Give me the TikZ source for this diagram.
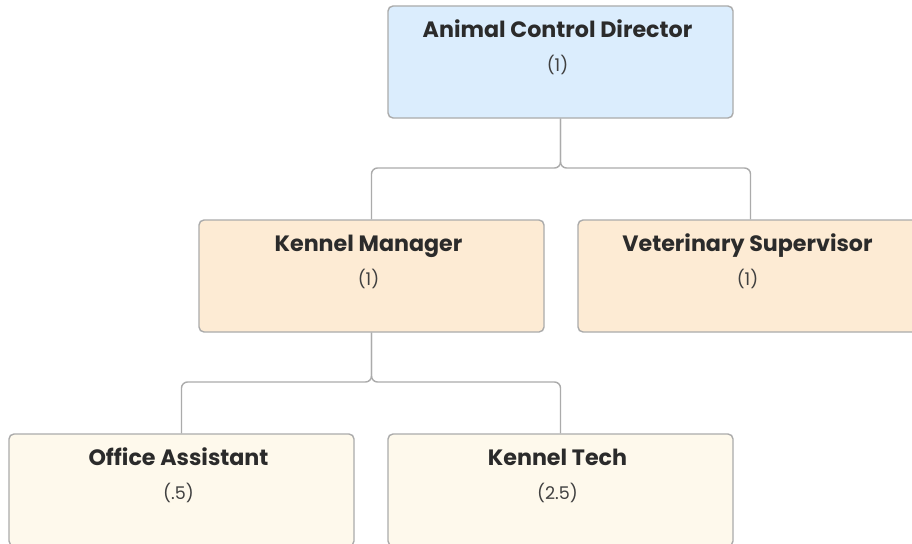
\documentclass[tikz,border=0pt]{standalone}
\usepackage{fontspec}
\setmainfont{Poppins}
\usepackage{tikz}
\usetikzlibrary{positioning}
\usepackage{xcolor}

\definecolor{dirfill}{HTML}{DBEDFD}
\definecolor{midfill}{HTML}{FDEBD4}
\definecolor{lowfill}{HTML}{FEF9EC}
\definecolor{edgegray}{HTML}{ABABAB}
\definecolor{textdark}{HTML}{2B2B2B}

\begin{document}
\begin{tikzpicture}[x=1pt, y=-1pt]

    % --- Global Settings ---
    \tikzset{
        posbox/.style={draw=edgegray, line width=1.4pt, rounded corners=5pt,
            minimum width=345pt, minimum height=112pt, inner sep=0pt},
        titletext/.style={anchor=base, font=\fontsize{22.2}{26}\selectfont\bfseries, text=textdark},
        counttext/.style={anchor=base, font=\fontsize{17.5}{20}\selectfont, text=textdark!90},
        linkstyle/.style={draw=edgegray, line width=1.4pt, rounded corners=6pt}
    }

    \clip (0,0) rectangle (912,543);
    \useasboundingbox (0,0) rectangle (912,543);
    \fill[white] (0,0) rectangle (912,543);

    % --- Boxes ---
    \node[posbox, fill=dirfill] (dir) at (560.5,62) {};
    \node[posbox, fill=midfill] (km)  at (371.5,276) {};
    \node[posbox, fill=midfill] (vs)  at (750.5,276) {};
    \node[posbox, fill=lowfill] (oa)  at (181.5,490) {};
    \node[posbox, fill=lowfill] (kt)  at (560.5,490) {};

    % --- Texts ---
    \node[titletext] (dirT) at ([xshift=-3,yshift=-32]dir.north) {Animal Control Director};
    \node[counttext] (dirC) at ([xshift=-3,yshift=-66]dir.north) {(1)};
    \node[titletext] (kmT)  at ([xshift=-3,yshift=-32]km.north) {Kennel Manager};
    \node[counttext] (kmC)  at ([xshift=-3,yshift=-66]km.north) {(1)};
    \node[titletext] (vsT)  at ([xshift=-3,yshift=-32]vs.north) {Veterinary Supervisor};
    \node[counttext] (vsC)  at ([xshift=-3,yshift=-66]vs.north) {(1)};
    \node[titletext] (oaT)  at ([xshift=-3,yshift=-32]oa.north) {Office Assistant};
    \node[counttext] (oaC)  at ([xshift=-3,yshift=-66]oa.north) {(.5)};
    \node[titletext] (ktT)  at ([xshift=-3,yshift=-32]kt.north) {Kennel Tech};
    \node[counttext] (ktC)  at ([xshift=-3,yshift=-66]kt.north) {(2.5)};

    % --- Connectors ---
    \coordinate (forkA) at (560.5,168);
    \coordinate (forkB) at (371.5,382);

    \draw[linkstyle] (dir.south) -- (forkA) -| (km.north);
    \draw[linkstyle] (dir.south) -- (forkA) -| (vs.north);
    \draw[linkstyle] (km.south) -- (forkB) -| (oa.north);
    \draw[linkstyle] (km.south) -- (forkB) -| (kt.north);

\end{tikzpicture}
\end{document}
